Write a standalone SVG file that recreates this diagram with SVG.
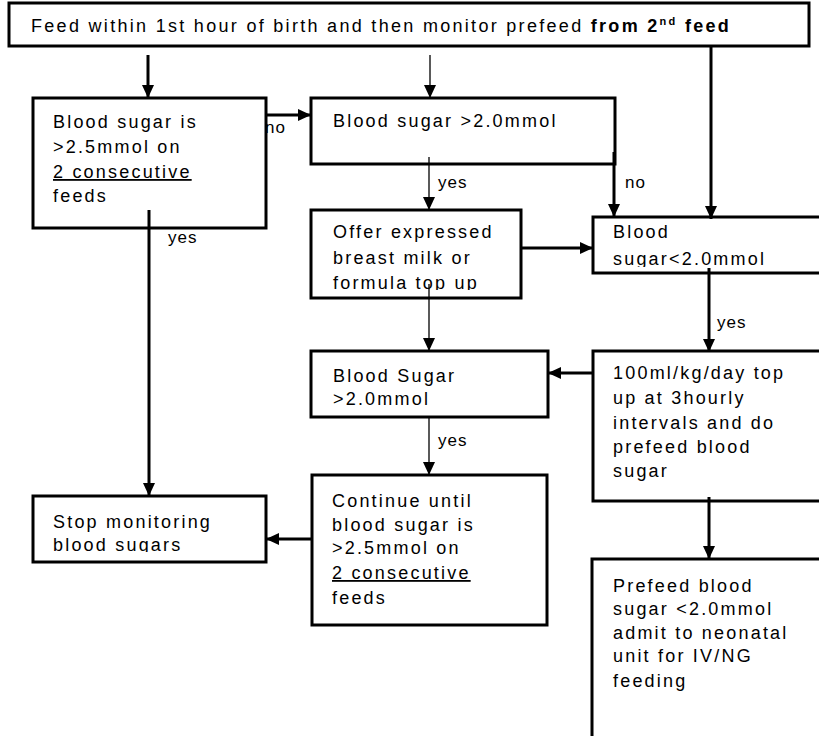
<svg xmlns="http://www.w3.org/2000/svg" width="819" height="736" viewBox="0 0 819 736">
<style>
.box{fill:#fff;stroke:#000;stroke-width:3}
.t{font-family:"Liberation Sans",Arial,sans-serif;font-size:18px;letter-spacing:2.2px;fill:#000}
.lbl{font-family:"Liberation Sans",Arial,sans-serif;font-size:17px;letter-spacing:1px;fill:#000}
.thick{stroke:#000;stroke-width:3;fill:none}
.thin{stroke:#000;stroke-width:1.3;fill:none}
.u{text-decoration:underline}
</style>
<defs>
<marker id="ah" markerUnits="userSpaceOnUse" markerWidth="14" markerHeight="14" refX="13" refY="7" orient="auto">
<path d="M0,1 L13,7 L0,13 z" fill="#000"/>
</marker>
<clipPath id="cOffer"><rect x="311" y="210" width="210" height="80"/></clipPath>
<clipPath id="cBlood2"><rect x="593" y="217" width="226" height="50"/></clipPath>
<clipPath id="cStop"><rect x="33" y="496" width="233" height="56"/></clipPath>
</defs>

<g id="top">
<rect class="box" x="9" y="3" width="800" height="43"/>
<text class="t" x="31" y="32" style="font-size:18px;letter-spacing:2.3px">Feed within 1st hour of birth and then monitor prefeed <tspan font-weight="bold">from 2<tspan dy="-7" font-size="11">nd</tspan><tspan dy="7"> feed</tspan></tspan></text>
</g>

<g id="check25">
<rect class="box" x="33" y="98" width="233" height="130"/>
<text class="t" x="53" y="128">Blood sugar is</text>
<text class="t" x="53" y="153">&gt;2.5mmol on</text>
<text class="t u" x="53" y="178">2 consecutive</text>
<text class="t" x="53" y="202">feeds</text>
</g>

<g id="check20">
<rect class="box" x="311" y="98" width="304" height="66"/>
<text class="t" x="333" y="127">Blood sugar &gt;2.0mmol</text>
</g>

<g id="offer">
<rect class="box" x="311" y="210" width="210" height="88"/>
<g clip-path="url(#cOffer)">
<text class="t" x="333" y="238">Offer expressed</text>
<text class="t" x="333" y="264">breast milk or</text>
<text class="t" x="333" y="289">formula top up</text>
</g>
</g>

<g id="low">
<rect class="box" x="593" y="217" width="240" height="56"/>
<g clip-path="url(#cBlood2)">
<text class="t" x="613" y="238">Blood</text>
<text class="t" x="613" y="265">sugar&lt;2.0mmol</text>
</g>
</g>

<g id="recheck">
<rect class="box" x="311" y="351" width="237" height="66"/>
<text class="t" x="333" y="382">Blood Sugar</text>
<text class="t" x="333" y="405">&gt;2.0mmol</text>
</g>

<g id="topup">
<rect class="box" x="593" y="351" width="240" height="150"/>
<text class="t" x="613" y="379">100ml/kg/day top</text>
<text class="t" x="613" y="404">up at 3hourly</text>
<text class="t" x="613" y="429">intervals and do</text>
<text class="t" x="613" y="453">prefeed blood</text>
<text class="t" x="613" y="477">sugar</text>
</g>

<g id="continue">
<rect class="box" x="312" y="475" width="235" height="150"/>
<text class="t" x="332" y="507">Continue until</text>
<text class="t" x="332" y="531">blood sugar is</text>
<text class="t" x="332" y="554">&gt;2.5mmol on</text>
<text class="t u" x="332" y="579">2 consecutive</text>
<text class="t" x="332" y="604">feeds</text>
</g>

<g id="stop">
<rect class="box" x="33" y="496" width="233" height="66"/>
<g clip-path="url(#cStop)">
<text class="t" x="53" y="528">Stop monitoring</text>
<text class="t" x="53" y="551">blood sugars</text>
</g>
</g>

<g id="admit">
<rect class="box" x="592" y="559" width="240" height="190"/>
<text class="t" x="613" y="592">Prefeed blood</text>
<text class="t" x="613" y="615">sugar &lt;2.0mmol</text>
<text class="t" x="613" y="639">admit to neonatal</text>
<text class="t" x="613" y="662">unit for IV/NG</text>
<text class="t" x="613" y="687">feeding</text>
</g>

<g id="connectors">
<line class="thick" x1="148" y1="55" x2="148" y2="98" marker-end="url(#ah)"/>
<line class="thin" x1="430" y1="55" x2="430" y2="98" marker-end="url(#ah)"/>
<line class="thick" x1="711" y1="46" x2="711" y2="219" marker-end="url(#ah)"/>
<line class="thick" x1="266" y1="115" x2="311" y2="115" marker-end="url(#ah)"/>
<line class="thick" x1="614" y1="152" x2="614" y2="217" marker-end="url(#ah)"/>
<line class="thin" x1="429" y1="157" x2="429" y2="210" marker-end="url(#ah)"/>
<line class="thick" x1="521" y1="248" x2="593" y2="248" marker-end="url(#ah)"/>
<line class="thick" x1="709" y1="268" x2="709" y2="352" marker-end="url(#ah)"/>
<line class="thin" x1="429" y1="284" x2="429" y2="351" marker-end="url(#ah)"/>
<line class="thick" x1="593" y1="373" x2="548" y2="373" marker-end="url(#ah)"/>
<line class="thin" x1="429" y1="417" x2="429" y2="475" marker-end="url(#ah)"/>
<line class="thick" x1="149" y1="210" x2="149" y2="496" marker-end="url(#ah)"/>
<line class="thick" x1="312" y1="539" x2="266" y2="539" marker-end="url(#ah)"/>
<line class="thick" x1="709" y1="497" x2="709" y2="559" marker-end="url(#ah)"/>
<text class="lbl" x="265" y="133">no</text>
<text class="lbl" x="438" y="188">yes</text>
<text class="lbl" x="625" y="188">no</text>
<text class="lbl" x="168" y="243">yes</text>
<text class="lbl" x="717" y="328">yes</text>
<text class="lbl" x="438" y="446">yes</text>
</g>
</svg>
